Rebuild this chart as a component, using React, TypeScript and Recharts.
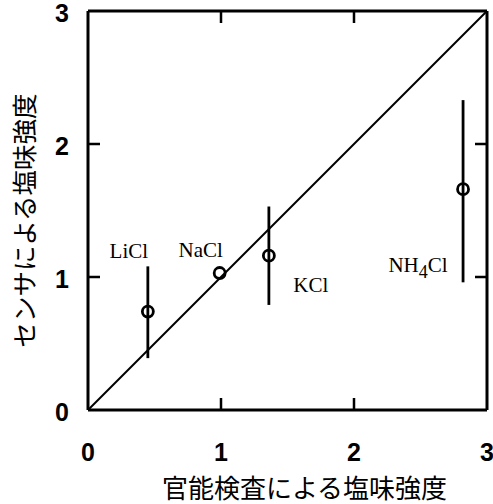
import React from 'react';
import { ScatterChart, Scatter, XAxis, YAxis, ErrorBar, ReferenceLine, Label } from 'recharts';

const salts = ['LiCl', 'NaCl', 'KCl', 'NH4Cl'];
const sensoryScore = [0.45, 0.99, 1.36, 2.82];
const sensorScore = [0.74, 1.03, 1.16, 1.66];
const sensorLow = [0.39, 1.03, 0.79, 0.96];
const sensorHigh = [1.08, 1.03, 1.53, 2.33];
const axisTicks = [0, 1, 2, 3];
const innerTicks = [1, 2];
const identity = [0, 3];

const W = 493;
const H = 504;
const margin = { top: 10, right: 5, left: 0, bottom: 0 };
const Y_AXIS_W = 88;
const X_AXIS_H = 94;
const TICK_PX = 12;

// plot box, used only for the inward frame ticks
const plot = {
  left: margin.left + Y_AXIS_W,
  top: margin.top + 1,
  right: W - margin.right - 1,
  bottom: H - margin.bottom - X_AXIS_H,
};

// where each salt name sits relative to its marker (px)
const labelOffsets = [
  { dx: -19, dy: -54 },
  { dx: -19, dy: -16 },
  { dx: 42, dy: 36 },
  { dx: -45, dy: 83 },
];

const data = salts.map((name, i) => ({
  name,
  x: sensoryScore[i],
  y: sensorScore[i],
  err: [sensorScore[i] - sensorLow[i], sensorHigh[i] - sensorScore[i]],
}));

const lo = identity[0];
const hi = identity[1];

const tickFont = { fontFamily: 'Liberation Sans, Arial, sans-serif', fontSize: 25, fontWeight: 700, fill: '#000' };
const jpFont = '"Noto Sans CJK JP", sans-serif';

// "NH4Cl" -> NH<sub>4</sub>Cl
const SaltName = ({ name, x, y }: { name: string; x: number; y: number }) => {
  const parts = name.split(/(\d+)/).filter(Boolean);
  return (
    <text x={x} y={y} textAnchor="middle" fontFamily="Liberation Serif, Times New Roman, serif" fontSize={21} fill="#000">
      {parts.map((p, i) =>
        /\d/.test(p) ? (
          <tspan key={i} dy={6} fontSize={18}>{p}</tspan>
        ) : (
          <tspan key={i} dy={i > 0 ? -6 : 0}>{p}</tspan>
        )
      )}
    </text>
  );
};

const Marker = (props: any) => {
  const { cx, cy, index } = props;
  const off = labelOffsets[index] || { dx: 0, dy: 0 };
  return (
    <g>
      <circle cx={cx} cy={cy} r={5.5} fill="none" stroke="#000" strokeWidth={2.8} />
      <SaltName name={props.payload.name} x={cx + off.dx} y={cy + off.dy} />
    </g>
  );
};

const XTick = (props: any) => (
  <text x={props.x} y={props.y + 42} textAnchor="middle" dominantBaseline="central" {...tickFont}>
    {props.payload.value}
  </text>
);

const YTick = (props: any) => (
  <text x={props.x - 19} y={props.y + 2} textAnchor="end" dominantBaseline="central" {...tickFont}>
    {props.payload.value}
  </text>
);

// y title + inward ticks on the left and right edges
const YTitle = (props: any) => {
  const { viewBox } = props;
  const cx = 22.5;
  const cy = viewBox.y + viewBox.height / 2 + 10;
  const h = plot.bottom - plot.top;
  return (
    <g>
      {innerTicks.map((v) => {
        const ty = plot.bottom - ((v - lo) / (hi - lo)) * h;
        return (
          <g key={v}>
            <rect x={plot.left} y={ty - 1.25} width={TICK_PX} height={2.5} fill="#000" />
            <rect x={plot.right - TICK_PX} y={ty - 1.25} width={TICK_PX} height={2.5} fill="#000" />
          </g>
        );
      })}
      <text x={cx} y={cy} transform={`rotate(-90 ${cx} ${cy})`} textAnchor="middle" dominantBaseline="central"
        fontFamily={jpFont} fontSize={25.5} fill="#000">
        センサによる塩味強度
      </text>
    </g>
  );
};

// x title + inward ticks on the bottom and top edges
const XTitle = (props: any) => {
  const { viewBox } = props;
  const cx = viewBox.x + viewBox.width / 2 + 17;
  const w = plot.right - plot.left;
  return (
    <g>
      {innerTicks.map((v) => {
        const tx = plot.left + ((v - lo) / (hi - lo)) * w;
        return (
          <g key={v}>
            <rect x={tx - 1.25} y={plot.bottom - TICK_PX} width={2.5} height={TICK_PX} fill="#000" />
            <rect x={tx - 1.25} y={plot.top} width={2.5} height={TICK_PX} fill="#000" />
          </g>
        );
      })}
      <text x={cx} y={486} textAnchor="middle" dominantBaseline="central" fontFamily={jpFont} fontSize={26} fill="#000">
        官能検査による塩味強度
      </text>
    </g>
  );
};

const axisLine = { stroke: '#000', strokeWidth: 3 };

export default function App() {
  return (
    <div style={{ position: 'absolute', left: 0, top: 0, background: '#fff' }}>
      <ScatterChart width={W} height={H} margin={margin}>
        <XAxis type="number" dataKey="x" domain={[lo, hi]} ticks={axisTicks} height={X_AXIS_H}
          axisLine={axisLine} tickLine={false} tickSize={0} tickMargin={0} tick={<XTick />}>
          <Label content={<XTitle />} />
        </XAxis>
        <XAxis xAxisId="top" type="number" orientation="top" domain={[lo, hi]} ticks={axisTicks} height={1}
          axisLine={axisLine} tickLine={false} tick={false} />
        <YAxis type="number" dataKey="y" domain={[lo, hi]} ticks={axisTicks} width={Y_AXIS_W}
          axisLine={axisLine} tickLine={false} tickSize={0} tickMargin={0} tick={<YTick />}>
          <Label content={<YTitle />} />
        </YAxis>
        <YAxis yAxisId="right" type="number" orientation="right" domain={[lo, hi]} ticks={axisTicks} width={1}
          axisLine={axisLine} tickLine={false} tick={false} />

        <ReferenceLine segment={[{ x: lo, y: lo }, { x: hi, y: hi }]} stroke="#000" strokeWidth={2} ifOverflow="visible" />
        <Scatter data={data} shape={<Marker />} isAnimationActive={false}>
          <ErrorBar dataKey="err" direction="y" width={0} stroke="#000" strokeWidth={2.8} />
        </Scatter>
      </ScatterChart>
    </div>
  );
}
